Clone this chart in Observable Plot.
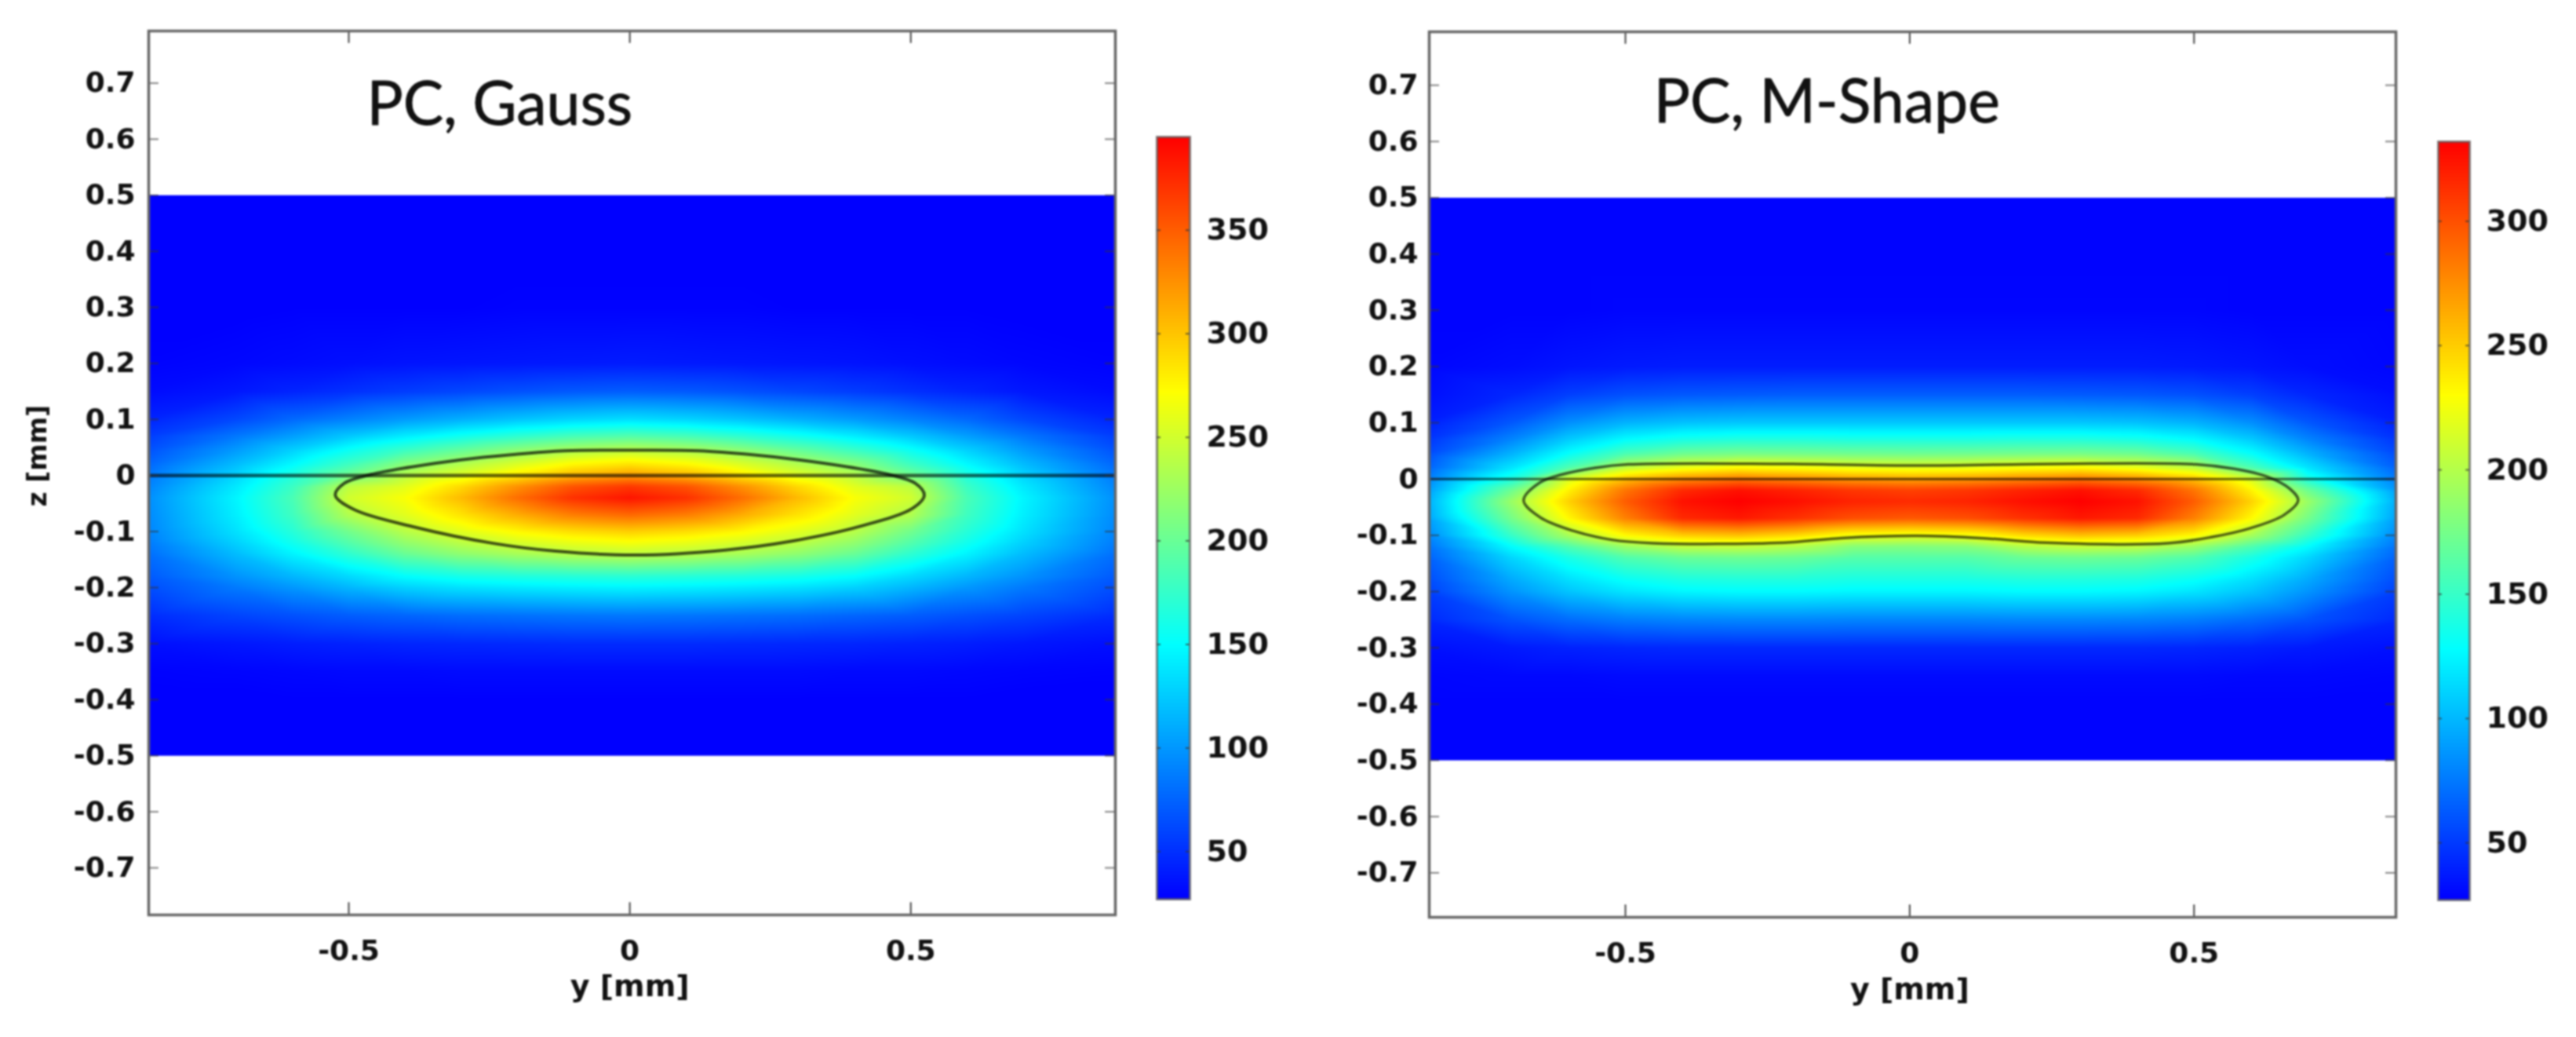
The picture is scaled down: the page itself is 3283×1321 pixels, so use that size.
<!DOCTYPE html>
<html><head><meta charset="utf-8">
<script src="https://cdn.jsdelivr.net/npm/d3@7"></script>
<script src="https://cdn.jsdelivr.net/npm/@observablehq/plot@0.6"></script>
<style>
html,body{margin:0;padding:0;background:#fff}
#page{position:relative;width:3283px;height:1321px;overflow:hidden;filter:blur(1px)}
#page>svg{position:absolute;background:transparent}
</style></head><body><div id="page"></div>
<script>
const yGrid=[-0.86,-0.7,-0.6,-0.5,-0.4,-0.3,-0.2,-0.1,0,0.1,0.2,0.3,0.4,0.5,0.6,0.7,0.87];
const zGrid=[0.5,0.4,0.3,0.2,0.15,0.1,0.07,0.045,0.02,0,-0.02,-0.04,-0.07,-0.1,-0.12,-0.14,-0.18,-0.2,-0.25,-0.3,-0.35,-0.4,-0.5];
const gaussRows=[
[26,26,26,26,26,26,26,26,26,26,26,26,26,26,26,26,26],
[26,26,26,26,26,26,26,26,26,26,26,26,26,26,26,26,26],
[26,26,27,27,27,27,28,28,28,28,28,27,27,27,27,26,26],
[28,30,32,34,36,37,38,39,40,39,38,37,36,34,32,30,28],
[32,38,44,50,56,61,66,70,72,70,66,61,56,50,44,38,32],
[44,62,78,90,102,112,122,130,135,130,122,112,102,90,78,62,44],
[56,85,104,124,142,158,172,184,190,184,172,158,142,124,104,85,56],
[66,102,128,155,178,198,217,232,240,232,217,198,178,155,128,102,66],
[76,118,148,180,215,235,255,275,285,275,255,235,215,180,148,118,76],
[84,130,165,205,238,258,283,308,320,308,283,258,238,205,165,130,84],
[90,140,178,240,258,290,325,355,368,355,325,290,258,240,178,140,90],
[95,146,185,250,270,305,342,372,385,372,342,305,270,250,185,146,95],
[93,143,180,235,258,285,312,335,345,335,312,285,258,235,180,143,93],
[90,136,168,205,238,258,275,288,295,288,275,258,238,205,168,136,90],
[86,128,158,190,220,240,252,262,268,262,252,240,220,190,158,128,86],
[80,118,145,172,200,218,230,238,242,238,230,218,200,172,145,118,80],
[70,98,115,132,150,160,165,168,170,168,165,160,150,132,115,98,70],
[64,86,100,115,128,136,140,143,145,143,140,136,128,115,100,86,64],
[48,60,66,72,76,80,82,84,85,84,82,80,76,72,66,60,48],
[34,38,41,43,45,46,47,48,48,48,47,46,45,43,41,38,34],
[28,29,30,31,31,32,32,32,32,32,32,32,31,31,30,29,28],
[26,26,27,27,27,27,27,27,27,27,27,27,27,27,27,26,26],
[26,26,26,26,26,26,26,26,26,26,26,26,26,26,26,26,26]];
const mshapeRows=[
[28,28,28,28,28,28,28,28,28,28,28,28,28,28,28,28,28],
[28,28,28,28,28,28,28,28,28,28,28,28,28,28,28,28,28],
[28,28,28,29,29,29,29,29,29,29,29,29,29,29,28,28,28],
[29,32,35,37,38,38,38,38,38,38,38,38,38,37,35,32,29],
[32,42,52,59,62,63,64,64,64,64,64,63,62,59,52,42,32],
[38,62,84,98,104,106,106,106,106,106,106,106,104,98,84,62,38],
[46,80,108,128,138,142,142,140,140,140,142,142,138,128,108,80,46],
[54,98,130,158,172,176,175,173,172,173,175,176,172,158,130,98,54],
[62,118,160,205,222,232,228,222,220,222,228,232,222,205,160,118,62],
[72,140,215,255,275,285,278,270,266,270,278,285,275,255,215,140,72],
[82,172,235,285,315,325,318,310,306,310,318,325,315,285,235,172,82],
[88,190,248,295,325,332,326,318,315,318,326,332,325,295,248,190,88],
[84,175,232,280,315,322,312,300,296,300,312,322,315,280,232,175,84],
[76,150,195,232,250,255,245,226,222,226,245,255,250,232,195,150,76],
[68,128,160,190,205,207,200,182,180,182,200,207,205,190,160,128,68],
[62,112,138,160,170,172,170,162,162,162,170,172,170,160,138,112,62],
[54,94,115,130,138,140,140,137,137,137,140,140,138,130,115,94,54],
[50,86,105,118,125,127,127,125,125,125,127,127,125,118,105,86,50],
[42,60,70,77,80,81,81,80,80,80,81,81,80,77,70,60,42],
[33,37,40,42,43,43,43,43,43,43,43,43,43,42,40,37,33],
[29,30,30,31,31,31,31,31,31,31,31,31,31,31,30,30,29],
[28,28,28,28,28,28,28,28,28,28,28,28,28,28,28,28,28],
[28,28,28,28,28,28,28,28,28,28,28,28,28,28,28,28,28]];
const gaussContourY=[-0.524,-0.508,-0.46,-0.39,-0.3,-0.211,-0.116,0.003,0.123,0.218,0.3,0.39,0.46,0.508,0.524,0.504,0.409,0.289,0.17,0.011,-0.132,-0.243,-0.387,-0.49];
const gaussContourZ=[-0.035,-0.014,0.002,0.015,0.028,0.037,0.044,0.045,0.044,0.037,0.028,0.015,0.002,-0.014,-0.035,-0.058,-0.091,-0.117,-0.133,-0.142,-0.135,-0.121,-0.091,-0.061];
const mshapeContourY=[-0.679,-0.65,-0.612,-0.553,-0.495,-0.224,0.013,0.26,0.503,0.571,0.629,0.668,0.683,0.658,0.6,0.532,0.454,0.24,0.14,0.013,-0.12,-0.22,-0.451,-0.524,-0.592,-0.65];
const mshapeContourZ=[-0.038,-0.006,0.008,0.02,0.026,0.027,0.024,0.027,0.026,0.018,0.004,-0.017,-0.038,-0.064,-0.087,-0.103,-0.114,-0.113,-0.106,-0.101,-0.105,-0.113,-0.114,-0.108,-0.092,-0.068];
const zTicks=[0.7,0.6,0.5,0.4,0.3,0.2,0.1,0,-0.1,-0.2,-0.3,-0.4,-0.5,-0.6,-0.7];
const yTicks=[-0.5,0,0.5];
const gaussBarTicks=[50,100,150,200,250,300,350];
const mshapeBarTicks=[50,100,150,200,250,300];
const jetColors=["#0000ff","#00ffff","#ffff00","#ff0000"];
const gaussStops=[27,150,272,395];
const mshapeStops=[27,128,230,332];
const tickFont="DejaVu Sans";
const ink="#111";
const page=document.getElementById("page");

function panel(o){
  const pts=zGrid.flatMap((z,i)=>yGrid.map((y,j)=>({y,z,v:o.rows[i][j]})));
  const contour=o.cy.map((y,i)=>({y,z:o.cz[i]}));
  const [xa,xb]=o.xDomain,[ya,yb]=o.yDomain;
  const marks=[
    Plot.raster(pts,{x:"y",y:"z",fill:"v",interpolate:"barycentric",pixelSize:1,x1:xa,x2:xb,y1:-0.5,y2:0.5}),
    Plot.ruleY([0],{x1:xa,x2:xb,stroke:"#000",strokeOpacity:0.6,strokeWidth:o.zeroWidth}),
    Plot.line(contour,{x:"y",y:"z",curve:"catmull-rom-closed",stroke:"#000",strokeOpacity:o.contourOpacity,strokeWidth:o.contourWidth}),
    Plot.ruleY(zTicks,{x1:xa,x2:xa+0.018,stroke:"#333",strokeOpacity:0.6,strokeWidth:2}),
    Plot.ruleY(zTicks,{x1:xb,x2:xb-0.018,stroke:"#333",strokeOpacity:0.6,strokeWidth:2}),
    Plot.ruleX(yTicks,{y1:ya,y2:ya+0.022,stroke:"#444",strokeWidth:2}),
    Plot.ruleX(yTicks,{y1:yb,y2:yb-0.022,stroke:"#444",strokeWidth:2}),
    Plot.frame({stroke:"#666",strokeWidth:3.5}),
    Plot.axisY(zTicks,{anchor:"left",label:null,tickSize:0,tickPadding:o.zPad,tickFormat:d=>String(d),fontSize:36,fontWeight:"bold",fontFamily:tickFont,fill:ink}),
    Plot.axisX(yTicks,{anchor:"bottom",label:null,tickSize:0,tickPadding:32,tickFormat:d=>String(d),fontSize:36,fontWeight:"bold",fontFamily:tickFont,fill:ink}),
    Plot.text([o.title],{x:o.titleX,y:o.titleZ,textAnchor:"start",lineAnchor:"bottom",fontSize:77,fontFamily:"Lato",fill:ink,stroke:ink,strokeWidth:0.8}),
    Plot.text(["y [mm]"],{x:0,y:o.xLabelZ,fontSize:38,fontWeight:"bold",fontFamily:tickFont,fill:ink})
  ];
  if(o.zLabel) marks.push(Plot.text([o.zLabel],{x:-1.053,y:0.035,rotate:-90,fontSize:33,fontWeight:"bold",fontFamily:tickFont,fill:ink}));
  const svg=Plot.plot({width:o.w,height:1321,marginLeft:o.ml,marginRight:o.mr,marginTop:o.mt,marginBottom:o.mb,
    style:{background:"transparent",overflow:"visible"},
    x:{domain:o.xDomain,axis:null},y:{domain:o.yDomain,axis:null},
    color:{type:"linear",domain:o.stops,range:jetColors,interpolate:"rgb",clamp:true},
    marks});
  svg.style.left=o.left+"px";svg.style.top="0px";
  page.appendChild(svg);
}
function bar(o){
  const lo=o.stops[0],hi=o.stops[3];
  const svg=Plot.plot({width:o.w,height:1321,marginLeft:o.ml,marginRight:o.mr,marginTop:o.mt,marginBottom:o.mb,
    style:{background:"transparent",overflow:"visible"},
    x:{domain:[0,1],axis:null},y:{domain:[lo,hi],axis:null},
    color:{type:"linear",domain:o.stops,range:jetColors,interpolate:"rgb",clamp:true},
    marks:[
      Plot.raster({x1:0,x2:1,y1:lo,y2:hi,fill:(x,y)=>y,pixelSize:1}),
      Plot.ruleY(o.ticks,{x1:0,x2:0.12,stroke:"#333",strokeWidth:2,strokeOpacity:0.7}),
      Plot.ruleY(o.ticks,{x1:0.88,x2:1,stroke:"#333",strokeWidth:2,strokeOpacity:0.7}),
      Plot.frame({stroke:"#555",strokeWidth:3,strokeOpacity:0.7}),
      Plot.axisY(o.ticks,{anchor:"right",label:null,tickSize:0,tickPadding:21,tickFormat:d=>String(d),fontSize:38,fontWeight:"bold",fontFamily:tickFont,fill:ink})
    ]});
  svg.style.left=o.left+"px";svg.style.top="0px";
  page.appendChild(svg);
}
panel({left:0,w:1460,ml:189,mr:39,mt:39,mb:156,xDomain:[-0.856,0.864],yDomain:[-0.784,0.793],zPad:17,
  rows:gaussRows,cy:gaussContourY,cz:gaussContourZ,stops:gaussStops,title:"PC, Gauss",titleX:-0.468,titleZ:0.626,xLabelZ:-0.912,zLabel:"z [mm]",zeroWidth:4.5,contourWidth:4,contourOpacity:0.68});
bar({left:1440,w:260,ml:34,mr:184,mt:174,mb:176,stops:gaussStops,ticks:gaussBarTicks});
panel({left:1640,w:1420,ml:181,mr:7,mt:40,mb:153,xDomain:[-0.845,0.855],yDomain:[-0.779,0.795],zPad:14,
  rows:mshapeRows,cy:mshapeContourY,cz:mshapeContourZ,stops:mshapeStops,title:"PC, M-Shape",titleX:-0.45,titleZ:0.634,xLabelZ:-0.908,zLabel:null,zeroWidth:3,contourWidth:3.5,contourOpacity:0.62});
bar({left:3070,w:213,ml:37,mr:136,mt:180,mb:175,stops:mshapeStops,ticks:mshapeBarTicks});
</script></body></html>
